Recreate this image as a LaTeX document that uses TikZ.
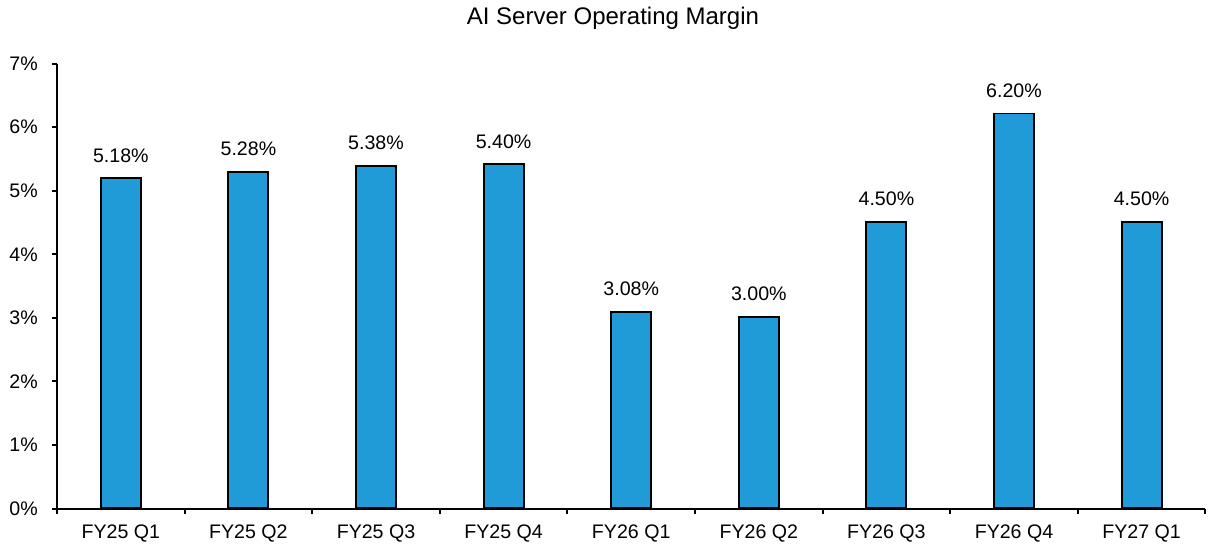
\documentclass[tikz,border=0pt]{standalone}
\usepackage{fontspec}
\setmainfont{Liberation Sans}
\usetikzlibrary{positioning}
\definecolor{barblue}{RGB}{32,155,215}
\newlength{\ystep}
\setlength{\ystep}{47.68pt}

\begin{document}
\begin{tikzpicture}[
    x=95.7pt, y=47.68pt,
    bar/.style={rectangle, draw=black, fill=barblue, line width=1.4pt, minimum width=30pt, inner sep=0pt, anchor=south},
    val/.style={anchor=south, inner sep=0pt, font=\fontsize{14.7}{16}\selectfont},
    ticklab/.style={inner sep=0pt, font=\fontsize{14.7}{16}\selectfont},
    axis/.style={line width=1.5pt, black},
]
\useasboundingbox (-0.4467,-0.6056) rectangle (9.036,8.0);

\node[font=\fontsize{18}{20}\selectfont] (title) at (4.357,7.716) {AI Server Operating Margin};

% bars
\node[bar, minimum height=5.18\ystep] (b1) at (0.5,0) {};
\node[bar, minimum height=5.28\ystep] (b2) at (1.5,0) {};
\node[bar, minimum height=5.38\ystep] (b3) at (2.5,0) {};
\node[bar, minimum height=5.40\ystep] (b4) at (3.5,0) {};
\node[bar, minimum height=3.08\ystep] (b5) at (4.5,0) {};
\node[bar, minimum height=3.00\ystep] (b6) at (5.5,0) {};
\node[bar, minimum height=4.50\ystep] (b7) at (6.5,0) {};
\node[bar, minimum height=6.20\ystep] (b8) at (7.5,0) {};
\node[bar, minimum height=4.50\ystep] (b9) at (8.5,0) {};

% values
\node[val, above=11pt of b1.north, anchor=south] (v1) {5.18\%};
\node[val, above=11pt of b2.north, anchor=south] (v2) {5.28\%};
\node[val, above=11pt of b3.north, anchor=south] (v3) {5.38\%};
\node[val, above=11pt of b4.north, anchor=south] (v4) {5.40\%};
\node[val, above=11pt of b5.north, anchor=south] (v5) {3.08\%};
\node[val, above=11pt of b6.north, anchor=south] (v6) {3.00\%};
\node[val, above=11pt of b7.north, anchor=south] (v7) {4.50\%};
\node[val, above=11pt of b8.north, anchor=south] (v8) {6.20\%};
\node[val, above=11pt of b9.north, anchor=south] (v9) {4.50\%};

% axes
\coordinate (top) at (0,7);
\coordinate (origin) at (0,0);
\coordinate (right) at (9,0);
\draw[axis] (top) -- (origin) -- (right);
\foreach \k in {0,...,7} {
  \draw[axis] (0,\k) -- ++(-3.75pt,0);
  \node[ticklab, anchor=east] (y\k) at (-0.149,\k) {\k\%};
}
\foreach \k in {0,...,9} {
  \draw[axis] (\k,0) -- ++(0,-3.75pt);
}
\foreach \q [count=\i] in {FY25 Q1,FY25 Q2,FY25 Q3,FY25 Q4,FY26 Q1,FY26 Q2,FY26 Q3,FY26 Q4,FY27 Q1} {
  \node[ticklab, anchor=north] (x\i) at (\i-0.5,-0.244) {\q};
}
\end{tikzpicture}
\end{document}
